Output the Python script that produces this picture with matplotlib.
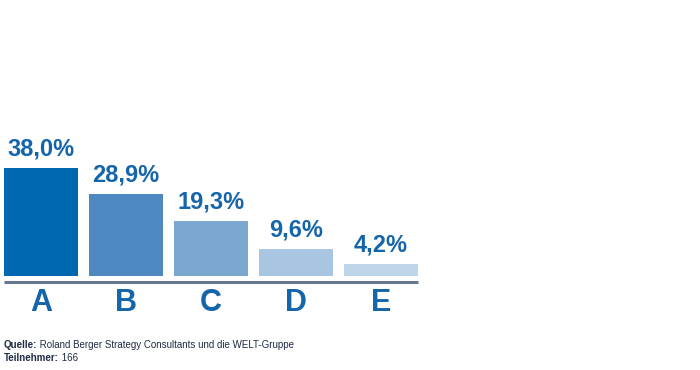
import matplotlib
matplotlib.use("Agg")
import matplotlib.pyplot as plt
from matplotlib import font_manager

# survey answers (percent)
CATEGORIES = ["A", "B", "C", "D", "E"]
VALUES = [38.0, 28.9, 19.3, 9.6, 4.2]
VALUE_LABELS = ["38,0%", "28,9%", "19,3%", "9,6%", "4,2%"]
BAR_COLORS = ["#0067b1", "#4e88c1", "#7ba7d1", "#a8c5e1", "#bfd5ea"]
SOURCE = "Roland Berger Strategy Consultants und die WELT-Gruppe"
PARTICIPANTS = "166"

names = {f.name for f in font_manager.fontManager.ttflist}
FONT = "Liberation Sans Narrow" if "Liberation Sans Narrow" in names else "Liberation Sans"
plt.rcParams["font.family"] = [FONT, "DejaVu Sans"]

LABEL_COLOR = "#1565aa"
W, H = 700, 370
fig = plt.figure(figsize=(W / 100, H / 100), dpi=100)

# axes placed in pixel terms: bars from x=4 to 418, baseline at y=276
ax = fig.add_axes([4 / W, 1 - 276 / H, 414 / W, 176 / H])
px_per_unit = 2.84
ax.set_xlim(-0.435, len(CATEGORIES) - 1 + 0.435)
ax.set_ylim(0, 176 / px_per_unit)
ax.axis("off")

xs = range(len(CATEGORIES))
ax.bar(xs, VALUES, width=0.87, color=BAR_COLORS)

for x, v, lab in zip(xs, VALUES, VALUE_LABELS):
    ax.annotate(lab, (x, v), xytext=(0, 5.5), textcoords="offset points",
                ha="center", va="bottom", fontsize=17, fontweight="bold",
                color=LABEL_COLOR)

# separating line under the bars
ax.axhline(-6 / px_per_unit, color="#66788e", lw=2.2, clip_on=False,
           solid_capstyle="butt")

for x, c in zip(xs, CATEGORIES):
    ax.text(x, -27 / px_per_unit, c, ha="center", va="center", fontsize=22,
            fontweight="bold", color=LABEL_COLOR)

# footer
renderer = fig.canvas.get_renderer()
foot_color = "#1f2b45"
for y_px, head, rest in [(348, "Quelle:", " " + SOURCE), (361, "Teilnehmer:", " " + PARTICIPANTS)]:
    t = fig.text(4 / W, 1 - y_px / H, head, fontsize=7, fontweight="bold",
                 color=foot_color, va="baseline")
    bb = t.get_window_extent(renderer)
    fig.text(bb.x1 / W, 1 - y_px / H, rest, fontsize=7, color=foot_color,
             va="baseline")

fig.savefig("out.png", dpi=100, facecolor="white")
